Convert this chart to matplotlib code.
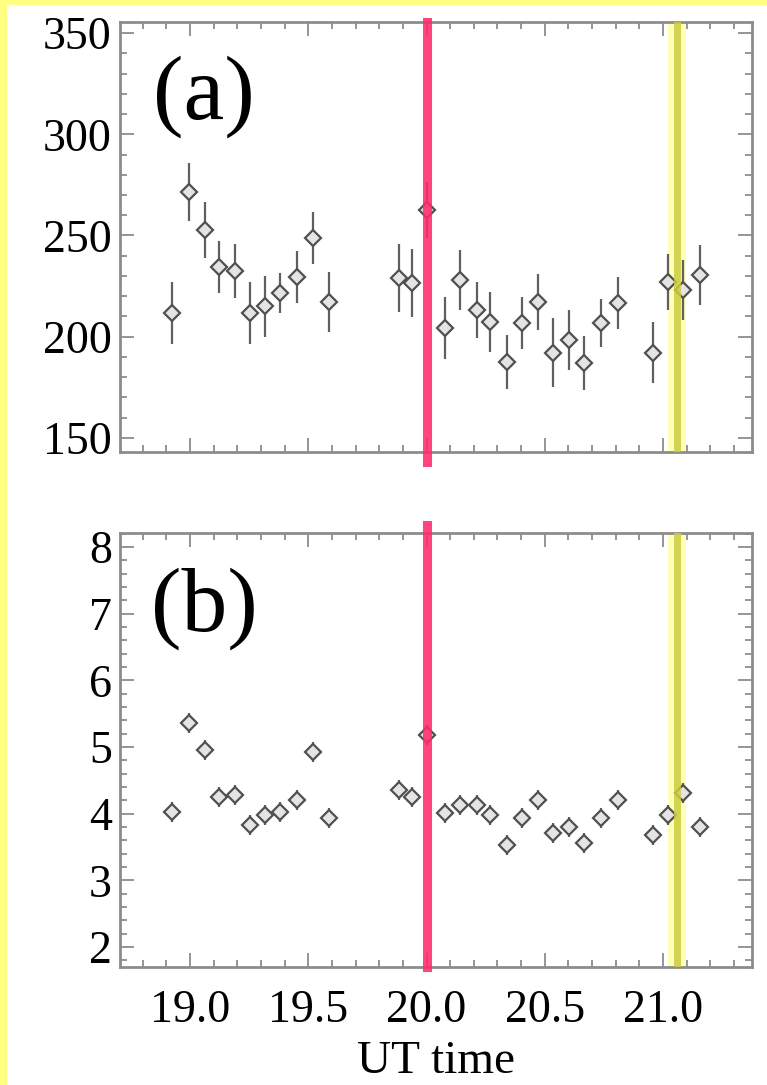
import matplotlib.pyplot as plt
from matplotlib.ticker import MultipleLocator, FixedLocator
from matplotlib.patches import Rectangle

plt.rcParams['font.family'] = ['Liberation Serif', 'DejaVu Serif']

# UT time of each measurement (hours)
ut = [18.924, 18.996, 19.063, 19.122, 19.190, 19.253, 19.316, 19.380, 19.451, 19.519,
      19.586, 19.882, 19.937, 20.000, 20.076, 20.143, 20.215, 20.270, 20.342, 20.405,
      20.472, 20.536, 20.603, 20.667, 20.738, 20.810, 20.958, 21.021, 21.084, 21.156]

# panel (a)
val_a = [211.7, 271.5, 252.7, 234.5, 232.5, 211.7, 215.0, 221.6, 229.5, 248.8,
         217.2, 229.0, 226.5, 262.6, 204.3, 228.0, 213.2, 207.3, 187.5, 206.8,
         217.2, 192.0, 198.4, 187.0, 206.8, 216.7, 192.0, 227.0, 223.1, 230.5]
err_a = [15.5, 14.5, 14.0, 13.0, 13.5, 15.5, 15.0, 10.0, 13.0, 13.0,
         15.0, 17.0, 17.0, 14.0, 15.5, 15.0, 14.0, 15.0, 13.5, 13.0,
         14.0, 17.0, 15.0, 13.5, 12.0, 13.0, 15.0, 14.0, 15.0, 15.0]

# panel (b)
val_b = [4.03, 5.36, 4.96, 4.25, 4.28, 3.83, 3.98, 4.03, 4.21, 4.93,
         3.94, 4.36, 4.25, 5.18, 4.01, 4.13, 4.13, 3.98, 3.53, 3.94,
         4.21, 3.71, 3.80, 3.56, 3.94, 4.21, 3.68, 3.98, 4.31, 3.80]
err_b = [0.15, 0.15, 0.15, 0.15, 0.15, 0.15, 0.15, 0.15, 0.15, 0.15,
         0.15, 0.15, 0.15, 0.15, 0.15, 0.15, 0.15, 0.15, 0.15, 0.15,
         0.15, 0.15, 0.15, 0.15, 0.15, 0.15, 0.15, 0.15, 0.15, 0.15]

red_time = 20.0
yellow_time = 21.059

xticks = [19.0, 19.5, 20.0, 20.5, 21.0]
xtick_labels = ['19.0', '19.5', '20.0', '20.5', '21.0']
yticks_a = [150, 200, 250, 300, 350]
yticks_b = [2, 3, 4, 5, 6, 7, 8]

W, H = 767, 1085
fig = plt.figure(figsize=(W / 100, H / 100), dpi=100)
fig.patch.set_facecolor('#ffff80')
# white area inside the yellow frame (frame only on left and top)
fig.patches.append(Rectangle((7 / W, 0), 1, 1 - 5 / H, transform=fig.transFigure,
                             facecolor='white', edgecolor='none', zorder=-10))

ax_a = fig.add_axes([120 / W, 1 - 452 / H, 632 / W, 430 / H])
ax_b = fig.add_axes([120 / W, 1 - 967 / H, 632 / W, 434 / H])

grey = '#8c8c8c'
# red line runs a little past the axes on the side facing the gap
panels = [(ax_a, val_a, err_a, (143.0, 355.5), yticks_a, 10, '(a)', (-0.023, 1.0)),
          (ax_b, val_b, err_b, (1.70, 8.21), yticks_b, 0.2, '(b)', (0.0, 1.018))]

for ax, vals, errs, ylim, yt, yminor, tag, red_span in panels:
    ax.set_facecolor('none')
    ax.errorbar(ut, vals, yerr=errs, fmt='D', ms=8, mfc='#e4e4e4', mec='#505050',
                mew=1.6, ecolor='#606060', elinewidth=1.6, capsize=0, zorder=3)
    # event markers
    ax.axvline(red_time, ymin=red_span[0], ymax=red_span[1], color='#ff2a6c', lw=6.5,
               alpha=0.88, zorder=4, clip_on=False)
    ax.axvspan(yellow_time - 0.04, yellow_time + 0.04, color='#ffff99', alpha=0.7,
               lw=0, zorder=2)
    ax.axvline(yellow_time, color='#cccc40', lw=5, alpha=0.85, zorder=4)

    ax.set_xlim(18.704, 21.376)
    ax.set_ylim(*ylim)
    ax.set_xticks(xticks)
    ax.xaxis.set_minor_locator(MultipleLocator(0.1))
    ax.yaxis.set_major_locator(FixedLocator(yt))
    ax.yaxis.set_minor_locator(MultipleLocator(yminor))
    ax.tick_params(which='both', direction='in', top=True, right=True, color=grey,
                   width=1.3, labelsize=33)
    ax.tick_params(which='major', length=10)
    ax.tick_params(which='minor', length=5)
    ax.tick_params(axis='y', pad=6)
    for sp in ax.spines.values():
        sp.set_color(grey)
        sp.set_linewidth(2)
    ax.text(0.133, 0.826, tag, transform=ax.transAxes, fontsize=66,
            ha='center', va='center')

ax_a.set_xticklabels([])
ax_b.set_xticklabels(xtick_labels)
ax_b.tick_params(axis='x', pad=16)
ax_b.set_xlabel('UT time', fontsize=34, labelpad=6)

fig.savefig('out.png', dpi=100)
